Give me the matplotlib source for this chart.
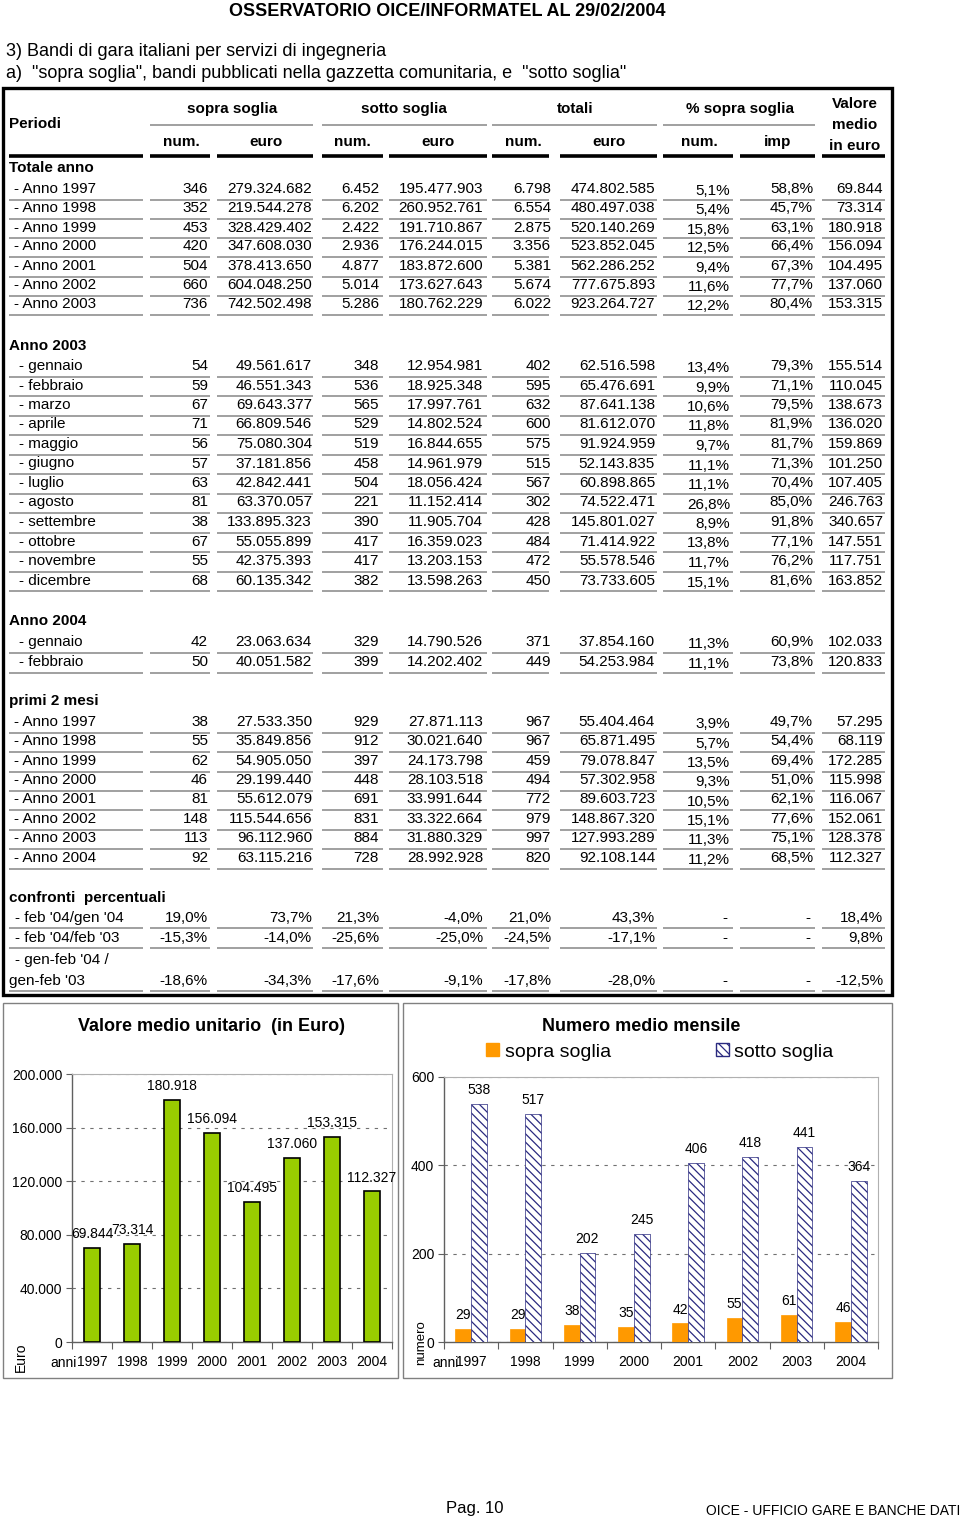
import numpy as np
import matplotlib
matplotlib.use('Agg')
import matplotlib.pyplot as plt
from matplotlib.patches import Rectangle, Patch
from matplotlib.lines import Line2D
from matplotlib.ticker import FuncFormatter, FixedLocator, NullFormatter

plt.rcParams['font.family'] = ['Liberation Sans', 'DejaVu Sans']
plt.rcParams['hatch.linewidth'] = 0.9
NARROW = ['Liberation Sans Narrow', 'Liberation Sans', 'DejaVu Sans']

# ---------------- DATA ----------------
years = ['1997', '1998', '1999', '2000', '2001', '2002', '2003', '2004']
valore_medio = [69844, 73314, 180918, 156094, 104495, 137060, 153315, 112327]
sopra_mensile = [29, 29, 38, 35, 42, 55, 61, 46]
sotto_mensile = [538, 517, 202, 245, 406, 418, 441, 364]

group_headers = ['sopra soglia', 'sotto soglia', 'totali', '% sopra soglia']
sub_headers = ['num.', 'euro', 'num.', 'euro', 'num.', 'euro', 'num.', 'imp']

totale_labels = ['- Anno 1997', '- Anno 1998', '- Anno 1999', '- Anno 2000',
                 '- Anno 2001', '- Anno 2002', '- Anno 2003']
totale_values = [
    ['346', '279.324.682', '6.452', '195.477.903', '6.798', '474.802.585', '5,1%', '58,8%', '69.844'],
    ['352', '219.544.278', '6.202', '260.952.761', '6.554', '480.497.038', '5,4%', '45,7%', '73.314'],
    ['453', '328.429.402', '2.422', '191.710.867', '2.875', '520.140.269', '15,8%', '63,1%', '180.918'],
    ['420', '347.608.030', '2.936', '176.244.015', '3.356', '523.852.045', '12,5%', '66,4%', '156.094'],
    ['504', '378.413.650', '4.877', '183.872.600', '5.381', '562.286.252', '9,4%', '67,3%', '104.495'],
    ['660', '604.048.250', '5.014', '173.627.643', '5.674', '777.675.893', '11,6%', '77,7%', '137.060'],
    ['736', '742.502.498', '5.286', '180.762.229', '6.022', '923.264.727', '12,2%', '80,4%', '153.315'],
]

mesi2003_labels = ['- gennaio', '- febbraio', '- marzo', '- aprile', '- maggio', '- giugno',
                   '- luglio', '- agosto', '- settembre', '- ottobre', '- novembre', '- dicembre']
mesi2003_values = [
    ['54', '49.561.617', '348', '12.954.981', '402', '62.516.598', '13,4%', '79,3%', '155.514'],
    ['59', '46.551.343', '536', '18.925.348', '595', '65.476.691', '9,9%', '71,1%', '110.045'],
    ['67', '69.643.377', '565', '17.997.761', '632', '87.641.138', '10,6%', '79,5%', '138.673'],
    ['71', '66.809.546', '529', '14.802.524', '600', '81.612.070', '11,8%', '81,9%', '136.020'],
    ['56', '75.080.304', '519', '16.844.655', '575', '91.924.959', '9,7%', '81,7%', '159.869'],
    ['57', '37.181.856', '458', '14.961.979', '515', '52.143.835', '11,1%', '71,3%', '101.250'],
    ['63', '42.842.441', '504', '18.056.424', '567', '60.898.865', '11,1%', '70,4%', '107.405'],
    ['81', '63.370.057', '221', '11.152.414', '302', '74.522.471', '26,8%', '85,0%', '246.763'],
    ['38', '133.895.323', '390', '11.905.704', '428', '145.801.027', '8,9%', '91,8%', '340.657'],
    ['67', '55.055.899', '417', '16.359.023', '484', '71.414.922', '13,8%', '77,1%', '147.551'],
    ['55', '42.375.393', '417', '13.203.153', '472', '55.578.546', '11,7%', '76,2%', '117.751'],
    ['68', '60.135.342', '382', '13.598.263', '450', '73.733.605', '15,1%', '81,6%', '163.852'],
]

mesi2004_labels = ['- gennaio', '- febbraio']
mesi2004_values = [
    ['42', '23.063.634', '329', '14.790.526', '371', '37.854.160', '11,3%', '60,9%', '102.033'],
    ['50', '40.051.582', '399', '14.202.402', '449', '54.253.984', '11,1%', '73,8%', '120.833'],
]

primi2_labels = ['- Anno 1997', '- Anno 1998', '- Anno 1999', '- Anno 2000',
                 '- Anno 2001', '- Anno 2002', '- Anno 2003', '- Anno 2004']
primi2_values = [
    ['38', '27.533.350', '929', '27.871.113', '967', '55.404.464', '3,9%', '49,7%', '57.295'],
    ['55', '35.849.856', '912', '30.021.640', '967', '65.871.495', '5,7%', '54,4%', '68.119'],
    ['62', '54.905.050', '397', '24.173.798', '459', '79.078.847', '13,5%', '69,4%', '172.285'],
    ['46', '29.199.440', '448', '28.103.518', '494', '57.302.958', '9,3%', '51,0%', '115.998'],
    ['81', '55.612.079', '691', '33.991.644', '772', '89.603.723', '10,5%', '62,1%', '116.067'],
    ['148', '115.544.656', '831', '33.322.664', '979', '148.867.320', '15,1%', '77,6%', '152.061'],
    ['113', '96.112.960', '884', '31.880.329', '997', '127.993.289', '11,3%', '75,1%', '128.378'],
    ['92', '63.115.216', '728', '28.992.928', '820', '92.108.144', '11,2%', '68,5%', '112.327'],
]

confronti_values = [
    ['19,0%', '73,7%', '21,3%', '-4,0%', '21,0%', '43,3%', '-', '-', '18,4%'],
    ['-15,3%', '-14,0%', '-25,6%', '-25,0%', '-24,5%', '-17,1%', '-', '-', '9,8%'],
    ['-18,6%', '-34,3%', '-17,6%', '-9,1%', '-17,8%', '-28,0%', '-', '-', '-12,5%'],
]

# ---------------- FIGURE ----------------
W, H = 960, 1521
fig = plt.figure(figsize=(W / 100, H / 100), dpi=100)
fig.patch.set_facecolor('white')


def fx(x):
    return x / W


def fy(y):
    return 1 - y / H


def txt(x, y, s, ha='left', size=11, weight='normal', dy=5, family=None, **kw):
    kws = dict(ha=ha, va='baseline', fontsize=size, fontweight=weight)
    if family is not None:
        kws['family'] = family
    kws.update(kw)
    fig.text(fx(x), fy(y + dy), s, **kws)


def hline(x0, x1, y, color='#a0a0a0', lw=1.4):
    fig.add_artist(Line2D([fx(x0), fx(x1)], [fy(y), fy(y)], transform=fig.transFigure,
                          color=color, lw=lw, solid_capstyle='butt'))


def rect(x0, y0, x1, y1, color='black', lw=1.0):
    fig.add_artist(Rectangle((fx(x0), fy(y1)), fx(x1) - fx(x0), fy(y0) - fy(y1),
                             transform=fig.transFigure, fill=False, edgecolor=color, lw=lw))


# ---- page header ----
txt(447, 10, 'OSSERVATORIO OICE/INFORMATEL AL 29/02/2004', ha='center', size=13,
    weight='bold', family=NARROW, dy=6)
txt(6, 50, '3) Bandi di gara italiani per servizi di ingegneria', size=13, family=NARROW, dy=6)
txt(6, 72, 'a)  "sopra soglia", bandi pubblicati nella gazzetta comunitaria, e  "sotto soglia"',
    size=13, family=NARROW, dy=6)

# ---- table ----
FS = 11
col_right = [208, 312, 379, 483, 551, 655, 730, 813, 883]
col_seg = [(9, 143), (150, 210), (217, 313), (322, 383), (389, 487), (492, 549),
           (560, 657), (663, 733), (740, 815), (822, 885)]

rect(3, 88, 892, 995, lw=2.4)

txt(9, 123, 'Periodi', size=FS, weight='bold')
group_centers = [232, 404, 575, 740]
for c, g in zip(group_centers, group_headers):
    txt(c, 108, g, ha='center', size=FS, weight='bold')
sub_centers = [181, 266, 352, 438, 523, 609, 699, 778]
for c, s in zip(sub_centers, sub_headers):
    txt(c, 141, s, ha='center', size=FS, weight='bold')
for yy, s in zip([103, 124, 145], ['Valore', 'medio', 'in euro']):
    txt(855, yy, s, ha='center', size=FS, weight='bold')

for (a, b) in [(150, 313), (322, 487), (492, 657), (663, 815)]:
    hline(a, b, 125, color='#a0a0a0', lw=1.4)
for (a, b) in col_seg:
    hline(a, b, 156, color='black', lw=2.6)


def section(title, ty, labels, label_x, rows_y, values, pct_drop=2):
    txt(9, ty, title, size=FS, weight='bold')
    for lab, yy, vals in zip(labels, rows_y, values):
        txt(label_x, yy, lab, size=FS)
        for j, (xr, v) in enumerate(zip(col_right, vals)):
            drop = pct_drop if j == 6 else 0
            txt(xr, yy + drop, v, ha='right', size=FS)
        for (a, b) in col_seg:
            hline(a, b, yy + 11.5)


section('Totale anno', 167, totale_labels, 14,
        [188, 207.5, 226.5, 245.5, 265, 284, 303], totale_values)
section('Anno 2003', 345, mesi2003_labels, 19,
        [365, 384.5, 404, 423.5, 443, 462.5, 482, 501.5, 521, 540.5, 560, 580], mesi2003_values)
section('Anno 2004', 620, mesi2004_labels, 19, [641, 661], mesi2004_values)
section('primi 2 mesi', 700, primi2_labels, 14,
        [721, 740.5, 760, 779, 798.5, 818, 837, 857], primi2_values)

# confronti
txt(9, 897, 'confronti  percentuali', size=FS, weight='bold')
conf_rows = [(15, 917, "- feb '04/gen '04"), (15, 937, "- feb '04/feb '03"), (9, 980, "gen-feb '03")]
txt(15, 959, "- gen-feb '04 /", size=FS)
for (lx, yy, lab), vals in zip(conf_rows, confronti_values):
    txt(lx, yy, lab, size=FS)
    for xr, v in zip(col_right, vals):
        txt(xr - (3 if v == '-' else 0), yy, v, ha='right', size=FS)
    for (a, b) in col_seg:
        hline(a, b, yy + 11)

# ---------------- CHART BOXES ----------------
rect(3, 1003, 398, 1378, color='#808080', lw=1.0)
rect(403, 1003, 892, 1378, color='#808080', lw=1.0)

thousands = FuncFormatter(lambda v, p: f"{int(round(v)):,}".replace(',', '.'))
x = np.arange(len(years))


def style_axis(ax, ymax, ystep):
    ax.set_xlim(-0.5, len(years) - 0.5)
    ax.set_ylim(0, ymax)
    ax.set_yticks(np.arange(0, ymax + 1, ystep))
    ax.yaxis.grid(True, linestyle=(0, (3, 5)), color='#707070', lw=0.8)
    ax.set_axisbelow(True)
    ax.xaxis.set_major_locator(FixedLocator(np.arange(-0.5, len(years), 1.0)))
    ax.xaxis.set_major_formatter(NullFormatter())
    ax.xaxis.set_minor_locator(FixedLocator(x))
    ax.set_xticklabels(years, minor=True)
    ax.tick_params(axis='x', which='major', length=5, direction='out', color='#606060', width=0.8)
    ax.tick_params(axis='x', which='minor', length=0, pad=9.5, labelsize=10)
    ax.tick_params(axis='y', length=4, direction='out', color='#606060', width=0.8,
                   pad=3, labelsize=10)
    for s in ['left', 'bottom']:
        ax.spines[s].set_color('#606060')
        ax.spines[s].set_linewidth(1.0)
    for s in ['top', 'right']:
        ax.spines[s].set_color('#b0b0b0')
        ax.spines[s].set_linewidth(0.8)


# ---- left chart ----
axL = fig.add_axes([fx(72), fy(1342), (392 - 72) / W, (1342 - 1074) / H])
barsL = axL.bar(x, valore_medio, width=0.42, color='#99CC00', edgecolor='black', lw=1.2, zorder=3)
style_axis(axL, 200000, 40000)
axL.yaxis.set_major_formatter(thousands)
axL.bar_label(barsL, labels=[thousands(v, None) for v in valore_medio], padding=5, fontsize=10)
txt(211, 1026, 'Valore medio unitario  (in Euro)', ha='center', size=13, weight='bold')
txt(77, 1362, 'anni', ha='right', size=10)
fig.text(fx(21), fy(1357), 'Euro', rotation=90, ha='center', va='center', fontsize=10)

# ---- right chart ----
axR = fig.add_axes([fx(444), fy(1342), (878 - 444) / W, (1342 - 1077) / H])
bw = 0.29
HATCH = '\\\\\\\\'
barsS = axR.bar(x - bw / 2, sopra_mensile, bw, color='#FF9900', edgecolor='#FF9900', lw=0.5, zorder=3)
barsT = axR.bar(x + bw / 2, sotto_mensile, bw, color='white', edgecolor='#2a2a80',
                hatch=HATCH, lw=0.5, zorder=3)
style_axis(axR, 600, 200)
axR.bar_label(barsS, labels=[str(v) for v in sopra_mensile], padding=5, fontsize=10)
axR.bar_label(barsT, labels=[str(v) for v in sotto_mensile], padding=5, fontsize=10)
txt(641, 1026, 'Numero medio mensile', ha='center', size=13, weight='bold')
txt(432, 1362, 'anni', ha='left', size=10)
fig.text(fx(421), fy(1343), 'numero', rotation=90, ha='center', va='center', fontsize=9.5)

handles = [Patch(facecolor='#FF9900', edgecolor='#FF9900', label='sopra soglia'),
           Patch(facecolor='white', edgecolor='#2a2a80', hatch=HATCH, label='sotto soglia')]
fig.legend(handles=handles, loc='center', bbox_to_anchor=(fx(660), fy(1052)), ncol=2,
           frameon=False, fontsize=14, handlelength=0.65, handleheight=0.65,
           handletextpad=0.3, columnspacing=5.4, borderpad=0)

# ---- footer ----
txt(475, 1508, 'Pag. 10', ha='center', size=12)
txt(706, 1510, 'OICE - UFFICIO GARE E BANCHE DATI', ha='left', size=10)

fig.savefig('out.png', dpi=100)
